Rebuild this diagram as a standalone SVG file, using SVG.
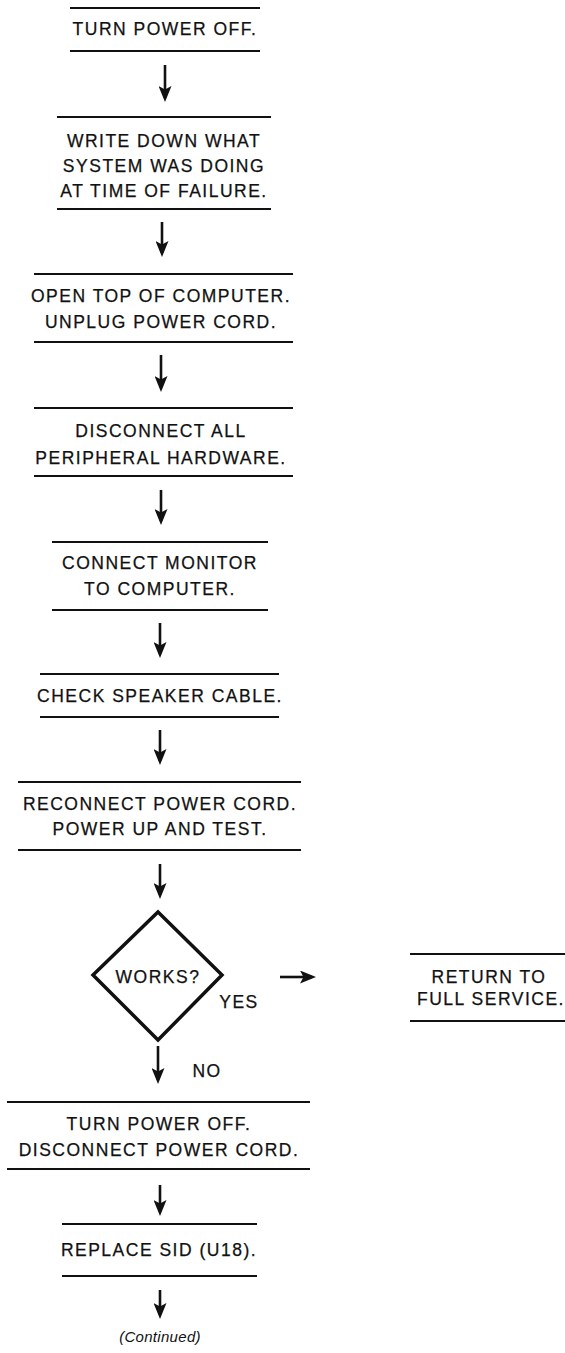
<svg xmlns="http://www.w3.org/2000/svg" width="565" height="1353" viewBox="0 0 565 1353">
<style>
.t{font-family:"Liberation Sans",Arial,sans-serif;font-size:17.5px;letter-spacing:1.5px;text-anchor:middle;fill:#111;stroke:#111;stroke-width:0.25}
.l{stroke:#111;stroke-width:2.2;fill:none}
.c{stroke:#111;stroke-width:2.6;fill:none}
.d{stroke:#111;stroke-width:3.5;fill:none;stroke-linejoin:miter}
.i{font-family:"Liberation Sans",Arial,sans-serif;font-size:15px;font-style:italic;letter-spacing:0.3px;text-anchor:middle;fill:#111}
</style>
<defs>
<marker id="ah" markerUnits="userSpaceOnUse" viewBox="0 0 16 13" markerWidth="16" markerHeight="13" refX="12" refY="6.5" orient="auto">
<path d="M0,0 L16,6.5 L0,13 L3.5,6.5 Z" fill="#111"/>
</marker>
</defs>
<rect width="565" height="1353" fill="#fff"/>
<g id="n1">
<line class="l" x1="70" y1="8" x2="260" y2="8"/><line class="l" x1="70" y1="51" x2="260" y2="51"/>
<text class="t" x="165" y="35">TURN POWER OFF.</text>
</g>
<g id="n2">
<line class="l" x1="57" y1="117" x2="271" y2="117"/><line class="l" x1="57" y1="209" x2="271" y2="209"/>
<text class="t" x="164" y="147">WRITE DOWN WHAT</text>
<text class="t" x="164" y="172">SYSTEM WAS DOING</text>
<text class="t" x="164" y="197">AT TIME OF FAILURE.</text>
</g>
<g id="n3">
<line class="l" x1="34" y1="274" x2="293" y2="274"/><line class="l" x1="34" y1="342" x2="293" y2="342"/>
<text class="t" x="161" y="302">OPEN TOP OF COMPUTER.</text>
<text class="t" x="161" y="328">UNPLUG POWER CORD.</text>
</g>
<g id="n4">
<line class="l" x1="34" y1="408" x2="293" y2="408"/><line class="l" x1="34" y1="476" x2="293" y2="476"/>
<text class="t" x="161" y="437">DISCONNECT ALL</text>
<text class="t" x="161" y="464">PERIPHERAL HARDWARE.</text>
</g>
<g id="n5">
<line class="l" x1="52" y1="542" x2="268" y2="542"/><line class="l" x1="52" y1="610" x2="268" y2="610"/>
<text class="t" x="160" y="569">CONNECT MONITOR</text>
<text class="t" x="160" y="595">TO COMPUTER.</text>
</g>
<g id="n6">
<line class="l" x1="40" y1="674" x2="279" y2="674"/><line class="l" x1="40" y1="717" x2="279" y2="717"/>
<text class="t" x="160" y="702">CHECK SPEAKER CABLE.</text>
</g>
<g id="n7">
<line class="l" x1="18" y1="782" x2="301" y2="782"/><line class="l" x1="18" y1="850" x2="301" y2="850"/>
<text class="t" x="160" y="810">RECONNECT POWER CORD.</text>
<text class="t" x="160" y="835">POWER UP AND TEST.</text>
</g>
<g id="n8">
<polygon class="d" points="158,912 222,975 158,1040 93,975"/>
<text class="t" x="158" y="983">WORKS?</text>
</g>
<g id="n9">
<line class="l" x1="410" y1="954" x2="565" y2="954"/><line class="l" x1="410" y1="1021" x2="565" y2="1021"/>
<text class="t" x="489" y="983">RETURN TO</text>
<text class="t" x="491" y="1005">FULL SERVICE.</text>
</g>
<g id="n10">
<line class="l" x1="7" y1="1102" x2="310" y2="1102"/><line class="l" x1="7" y1="1169" x2="310" y2="1169"/>
<text class="t" x="159" y="1130">TURN POWER OFF.</text>
<text class="t" x="159" y="1156">DISCONNECT POWER CORD.</text>
</g>
<g id="n11">
<line class="l" x1="62" y1="1224" x2="257" y2="1224"/><line class="l" x1="62" y1="1276" x2="257" y2="1276"/>
<text class="t" x="159" y="1256">REPLACE SID (U18).</text>
</g>
<g id="n12">
<text class="i" x="160" y="1342">(Continued)</text>
</g>
<g id="connectors">
<line class="c" x1="165" y1="65" x2="165" y2="98" marker-end="url(#ah)"/>
<line class="c" x1="162" y1="222" x2="162" y2="253" marker-end="url(#ah)"/>
<line class="c" x1="161" y1="355" x2="161" y2="388" marker-end="url(#ah)"/>
<line class="c" x1="161" y1="490" x2="161" y2="521" marker-end="url(#ah)"/>
<line class="c" x1="160" y1="623" x2="160" y2="654" marker-end="url(#ah)"/>
<line class="c" x1="160" y1="730" x2="160" y2="761" marker-end="url(#ah)"/>
<line class="c" x1="160" y1="864" x2="160" y2="895" marker-end="url(#ah)"/>
<line class="c" x1="280" y1="977" x2="312" y2="977" marker-end="url(#ah)"/>
<text class="t" x="239" y="1008">YES</text>
<line class="c" x1="158" y1="1046" x2="158" y2="1080" marker-end="url(#ah)"/>
<text class="t" x="207" y="1077">NO</text>
<line class="c" x1="160" y1="1185" x2="160" y2="1212" marker-end="url(#ah)"/>
<line class="c" x1="160" y1="1290" x2="160" y2="1315" marker-end="url(#ah)"/>
</g>
</svg>
